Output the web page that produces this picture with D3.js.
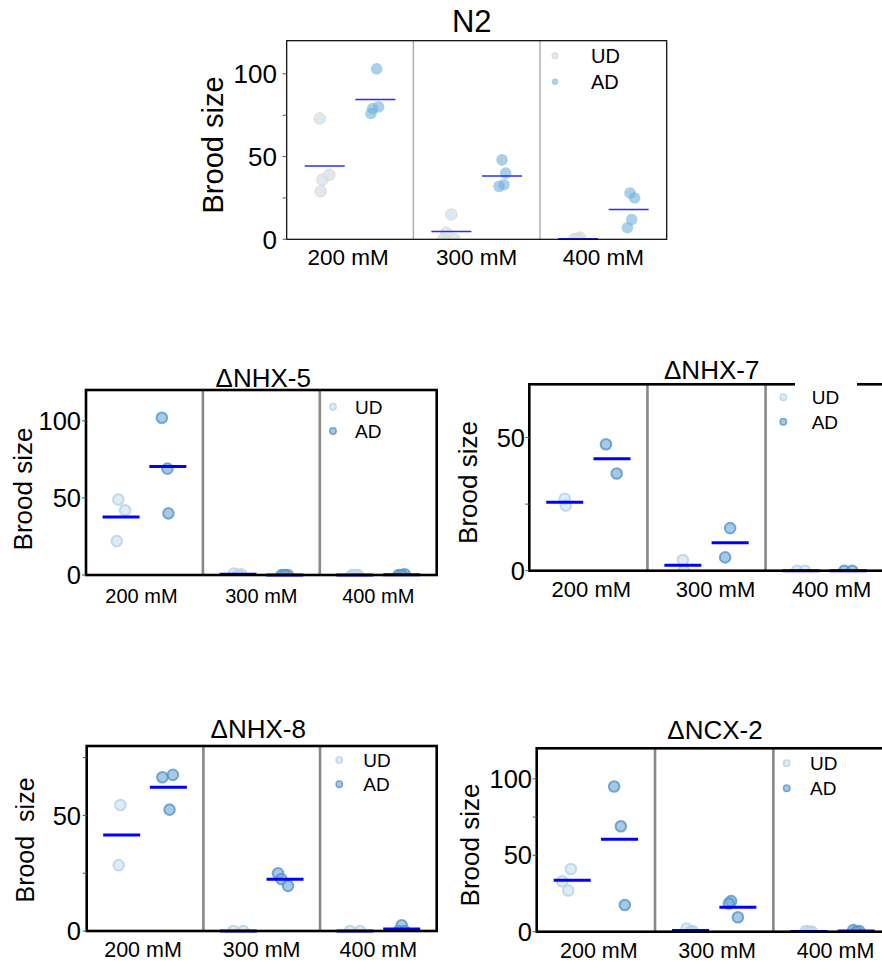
<!DOCTYPE html>
<html>
<head>
<meta charset="utf-8">
<script src="https://cdn.jsdelivr.net/npm/d3@7"></script>
<style>
  html, body { margin: 0; padding: 0; background: #fff; }
  svg { display: block; font-family: Arial, "Liberation Sans", Helvetica, sans-serif; }
</style>
</head>
<body>
<svg id="chart" width="882" height="962"></svg>
<script>
// ---------------- data ----------------
const conditions = ["200 mM", "300 mM", "400 mM"];
const groups = ["UD", "AD"];

// N2
const n2UD = [[73, 36, 39, 29], [15, 4, 0, 0], [0, 1, 0, 0]];
const n2AD = [[103, 80, 79, 76], [48, 40, 33, 32], [28, 25, 12, 7]];
// ΔNHX-5
const nhx5UD = [[49, 42, 22], [1, 0.5, 0], [0, 0, 0]];
const nhx5AD = [[102, 69, 40], [0, 0, 0], [0, 0.5, 0]];
// ΔNHX-7
const nhx7UD = [[27, 24.5], [4, 0], [0, 0]];
const nhx7AD = [[47.5, 36.5], [16, 5], [0, 0]];
// ΔNHX-8
const nhx8UD = [[54.5, 28.5], [0, 0], [0, 0]];
const nhx8AD = [[67.5, 66.5, 52.5], [25, 22.5, 19.5], [2.5, 0, 0]];
// ΔNCX-2
const ncx2UD = [[41, 33, 27], [2, 0.5, 0], [0.5, 0, 0]];
const ncx2AD = [[95, 69, 17.5], [20, 18.5, 9.5], [1, 0.5, 0]];

// y tick labels
const ticks120 = [0, 50, 100];
const ticks70 = [0, 50];
const ticks80 = [0, 50];

// horizontal jitter of the dots (px)
const n2UDjit = [[-5, -2.4, 4.6, -4], [0, -5, -8, 3], [-2, 2, 0, -4]];
const n2ADjit = [[1.3, 3.3, -2.7, -4.4], [0, 3.7, 2, -3], [1.3, 6, 3, -1.3]];
const nhx5UDjit = [[-2.7, 4, -4.3], [-4, 3, 0], [-3, 3, 0]];
const nhx5ADjit = [[-6, -0.4, 0.6], [-3, 3, 0], [-3, 3, 0]];
const nhx7UDjit = [[0, 1], [0, 1], [-4, 4]];
const nhx7ADjit = [[-6, 4.7], [0, -5], [-4, 4]];
const nhx8UDjit = [[-1.3, -3], [-5, 5], [-5, 5]];
const nhx8ADjit = [[4.5, -6, 1.2], [-7, -3.7, 3], [0, -3, 3]];
const ncx2UDjit = [[-1.3, -10, -4], [-4, 2, 0], [-3, 3, 0]];
const ncx2ADjit = [[-5.4, 1.3, 5.3], [-6.7, -9, 0], [-3, 3, 0]];

// ---------------- layout / style ----------------
const thinStyle = {
  frameW: 1.2, divColor: "#b0b0b0", divW: 1.5, meanColor: "#2b2bff", meanW: 1.6, meanHalf: 20,
  r: 5.8,
  UD: { fill: "#cfe3ee", fillOp: 0.75, stroke: "#f3cfb0", strokeOp: 0.8, sw: 1 },
  AD: { fill: "#6fb0d8", fillOp: 0.6, stroke: "none", strokeOp: 0, sw: 0 },
  legR: 3.2
};
const thickStyle = {
  frameW: 2.6, divColor: "#888888", divW: 2.6, meanColor: "#0000ff", meanW: 3, meanHalf: 18.5,
  r: 5.3,
  UD: { fill: "#c6dcec", fillOp: 0.55, stroke: "#b4d2e7", strokeOp: 0.8, sw: 2 },
  AD: { fill: "#78acd6", fillOp: 0.65, stroke: "#4f91c6", strokeOp: 0.75, sw: 2 },
  legR: 3.2
};

const panels = [
  { title: "N2", UD: n2UD, AD: n2AD, UDj: n2UDjit, ADj: n2ADjit, ticks: ticks120, minor: [25, 75], yMax: 120,
    left: 286.7, right: 666.7, top: 40.7, bottom: 239.3, st: thinStyle,
    titleX: 471.7, titleY: 31.5, titleSize: 31,
    tickSize: 26, tickX: 277, xlabSize: 22.5, xlabY: 265, xlabDx: [-2, 0, 0],
    ylab: "Brood size", ylabX: 213, ylabY: 145, ylabSize: 29,
    legX: 555, legTX: 591, legY: [55.7, 81.7], legSize: 20, legBox: null },
  { title: "ΔNHX-5", UD: nhx5UD, AD: nhx5AD, UDj: nhx5UDjit, ADj: nhx5ADjit, ticks: ticks120, minor: [], yMax: 120,
    left: 86, right: 436.7, top: 390, bottom: 575, st: thickStyle,
    titleX: 263.3, titleY: 386.5, titleSize: 26,
    tickSize: 25.5, tickX: 81, xlabSize: 20, xlabY: 603, xlabDx: [-3, 0, 0],
    ylab: "Brood size", ylabX: 23, ylabY: 489, ylabSize: 26,
    legX: 333, legTX: 355, legY: [406.7, 431], legSize: 19, legBox: null },
  { title: "ΔNHX-7", UD: nhx7UD, AD: nhx7AD, UDj: nhx7UDjit, ADj: nhx7ADjit, ticks: ticks70, minor: [25], yMax: 70,
    left: 529.3, right: 883.7, top: 384.3, bottom: 570.7, st: thickStyle,
    titleX: 711.7, titleY: 378.5, titleSize: 26,
    tickSize: 25.5, tickX: 525, xlabSize: 22, xlabY: 596.7, xlabDx: [3, 9, 7],
    ylab: "Brood size", ylabX: 468, ylabY: 482.5, ylabSize: 26,
    legX: 783.3, legTX: 811.7, legY: [397.3, 421.7], legSize: 19, legBox: [795, 857] },
  { title: "ΔNHX-8", UD: nhx8UD, AD: nhx8AD, UDj: nhx8UDjit, ADj: nhx8ADjit, ticks: ticks80, minor: [25, 75], yMax: 80,
    left: 86.7, right: 436.7, top: 746, bottom: 931, st: thickStyle,
    titleX: 258.3, titleY: 738.3, titleSize: 26,
    tickSize: 25.5, tickX: 81, xlabSize: 21.5, xlabY: 957, xlabDx: [-2, 0, 0],
    ylab: "Brood  size", ylabX: 25, ylabY: 840, ylabSize: 25,
    legX: 339.3, legTX: 363.3, legY: [760, 784.3], legSize: 19, legBox: null },
  { title: "ΔNCX-2", UD: ncx2UD, AD: ncx2AD, UDj: ncx2UDjit, ADj: ncx2ADjit, ticks: ticks120, minor: [75], yMax: 120,
    left: 536.7, right: 891.7, top: 748.3, bottom: 931.7, st: thickStyle,
    titleX: 715, titleY: 739.3, titleSize: 26,
    tickSize: 25.5, tickX: 532, xlabSize: 21.5, xlabY: 958, xlabDx: [3, 3, 3],
    ylab: "Brood size", ylabX: 470, ylabY: 845, ylabSize: 26,
    legX: 786.7, legTX: 810, legY: [763.3, 788.3], legSize: 19, legBox: null }
];

const svg = d3.select("#chart");
const defs = svg.append("defs");

panels.forEach((p, pi) => {
  const st = p.st;
  const g = svg.append("g");
  const x = d3.scaleBand().domain(conditions).range([p.left, p.right]).padding(0);
  const bw = x.bandwidth();
  const x1 = d3.scalePoint().domain(groups).range([bw * 0.3, bw * 0.7]);
  const y = d3.scaleLinear().domain([0, p.yMax]).range([p.bottom, p.top]);

  // clip
  const cid = "clip" + pi;
  defs.append("clipPath").attr("id", cid)
    .append("rect").attr("x", p.left).attr("y", p.top)
    .attr("width", p.right - p.left).attr("height", p.bottom - p.top);

  // dividers
  g.selectAll("line.div").data(conditions.slice(1)).enter().append("line")
    .attr("x1", d => x(d)).attr("x2", d => x(d))
    .attr("y1", p.top).attr("y2", p.bottom)
    .attr("stroke", st.divColor).attr("stroke-width", st.divW);

  // points
  const pts = [];
  conditions.forEach((c, ci) => {
    groups.forEach(gr => {
      p[gr][ci].forEach((v, k) => {
        pts.push({ c, gr, v, j: p[gr + "j"][ci][k] });
      });
    });
  });
  const pg = g.append("g").attr("clip-path", `url(#${cid})`);
  pg.selectAll("circle").data(pts).enter().append("circle")
    .attr("cx", d => x(d.c) + x1(d.gr) + d.j)
    .attr("cy", d => y(d.v))
    .attr("r", st.r)
    .attr("fill", d => st[d.gr].fill)
    .attr("fill-opacity", d => st[d.gr].fillOp)
    .attr("stroke", d => st[d.gr].stroke)
    .attr("stroke-opacity", d => st[d.gr].strokeOp)
    .attr("stroke-width", d => st[d.gr].sw);

  // means
  const means = [];
  conditions.forEach((c, ci) => groups.forEach(gr => means.push({ c, gr, m: d3.mean(p[gr][ci]) })));
  g.selectAll("line.mean").data(means).enter().append("line")
    .attr("x1", d => x(d.c) + x1(d.gr) - st.meanHalf)
    .attr("x2", d => x(d.c) + x1(d.gr) + st.meanHalf)
    .attr("y1", d => y(d.m))
    .attr("y2", d => y(d.m))
    .attr("stroke", st.meanColor).attr("stroke-width", st.meanW);

  // frame
  g.append("rect").attr("x", p.left).attr("y", p.top)
    .attr("width", p.right - p.left).attr("height", p.bottom - p.top)
    .attr("fill", "none").attr("stroke", "#000").attr("stroke-width", st.frameW);

  // y ticks (small outward marks) + labels
  const allT = p.ticks.concat(p.minor);
  g.selectAll("line.tk").data(allT).enter().append("line")
    .attr("x1", p.left - 4).attr("x2", p.left)
    .attr("y1", d => y(d)).attr("y2", d => y(d))
    .attr("stroke", "#555").attr("stroke-width", 1);
  g.selectAll("text.tl").data(p.ticks).enter().append("text")
    .attr("x", p.tickX).attr("y", d => y(d))
    .attr("dy", "0.36em")
    .attr("text-anchor", "end")
    .attr("font-size", p.tickSize)
    .attr("fill", "#000")
    .text(d => d);

  // x labels
  g.selectAll("text.xl").data(conditions).enter().append("text")
    .attr("x", (d, i) => x(d) + bw / 2 + p.xlabDx[i]).attr("y", p.xlabY)
    .attr("text-anchor", "middle")
    .attr("font-size", p.xlabSize)
    .attr("fill", "#000")
    .text(d => d);

  // y label
  g.append("text")
    .attr("transform", `translate(${p.ylabX},${p.ylabY}) rotate(-90)`)
    .attr("text-anchor", "middle")
    .attr("dy", "0.35em")
    .attr("font-size", p.ylabSize)
    .style("white-space", "pre")
    .attr("fill", "#000")
    .text(p.ylab);

  // title
  g.append("text").attr("x", p.titleX).attr("y", p.titleY)
    .attr("text-anchor", "middle").attr("font-size", p.titleSize).attr("fill", "#000")
    .text(p.title);

  // legend
  if (p.legBox) {
    g.append("rect").attr("x", p.legBox[0]).attr("y", p.top - 2).attr("width", p.legBox[1] - p.legBox[0])
      .attr("height", 4).attr("fill", "#fff");
  }
  const lg = g.append("g");
  groups.forEach((gr, i) => {
    lg.append("circle").attr("cx", p.legX).attr("cy", p.legY[i]).attr("r", st.legR)
      .attr("fill", st[gr].fill).attr("fill-opacity", st[gr].fillOp)
      .attr("stroke", st[gr].stroke).attr("stroke-opacity", st[gr].strokeOp)
      .attr("stroke-width", Math.min(st[gr].sw, 1.5));
    lg.append("text").attr("x", p.legTX).attr("y", p.legY[i]).attr("dy", "0.36em")
      .attr("font-size", p.legSize).attr("fill", "#000").text(gr);
  });
});
</script>
</body>
</html>
